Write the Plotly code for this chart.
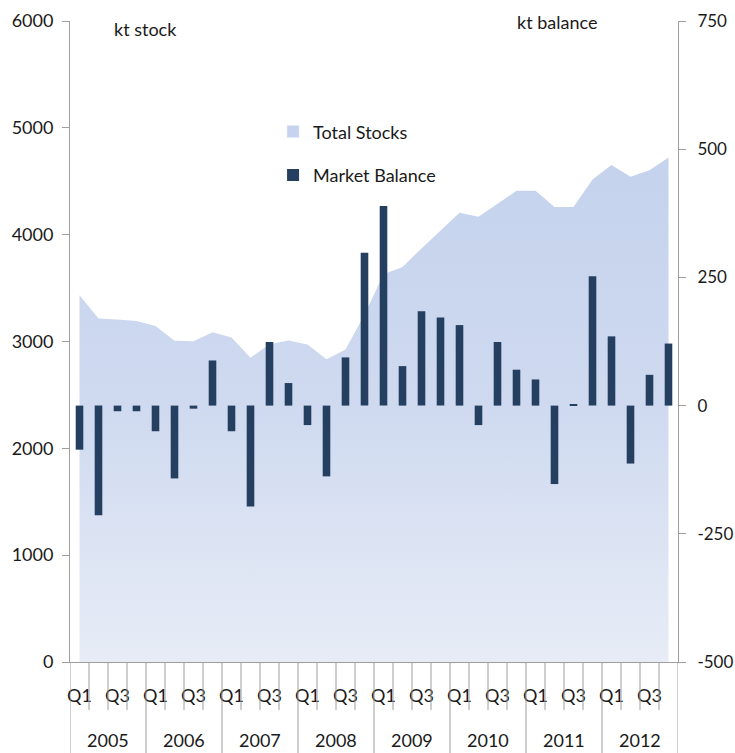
import plotly.graph_objects as go

# quarterly data, 2005 Q1 .. 2012 Q4
years = ["2005", "2006", "2007", "2008", "2009", "2010", "2011", "2012"]
quarters = ["Q1", "Q2", "Q3", "Q4"]
total_stocks = [3433, 3215, 3206, 3193, 3146, 3006, 3003, 3087,
                3037, 2849, 2975, 3009, 2971, 2834, 2926, 3253,
                3630, 3698, 3871, 4040, 4204, 4167, 4292, 4410,
                4410, 4260, 4260, 4517, 4651, 4541, 4604, 4722]
market_balance = [-86, -214, -11, -11, -50, -142, -6, 88,
                  -50, -197, 124, 44, -38, -138, 94, 298,
                  389, 77, 184, 172, 157, -38, 124, 70,
                  51, -153, 3, 252, 135, -113, 60, 121]
balance_ticks = [-500, -250, 0, 250, 500, 750]

FONT = "Lato"
FS = 18
AXIS_GREY = "#9E9E9E"
TEXT = "#1a1a1a"
n = len(years) * len(quarters)
idx = list(range(n))
qlabels = [q for y in years for q in quarters]

fig = go.Figure()

# Total stocks area (left axis)
fig.add_trace(go.Scatter(
    x=idx, y=total_stocks, mode="lines", fill="tozeroy",
    line=dict(width=0, color="#C6D3EE"),
    fillgradient=dict(type="vertical", start=0, stop=4800,
                      colorscale=[[0, "#E7ECF6"], [0.5, "#CFDAF0"], [1, "#C4D2EC"]]),
    showlegend=False, yaxis="y",
))
# legend proxy so the entry shows a square
fig.add_trace(go.Bar(x=[None], y=[None], name="Total Stocks",
                     marker_color="#C6D3EE", yaxis="y2", legendgroup="a"))

# Market balance bars (right axis)
fig.add_trace(go.Bar(
    x=idx, y=market_balance, name="Market Balance", width=0.4,
    marker=dict(color="#243F60", line=dict(width=0)),
    yaxis="y2", legendgroup="b",
))

# category dividers below the axis
shapes = []
for k in range(n + 1):
    long = k % len(quarters) == 0
    shapes.append(dict(type="line", xref="x", yref="paper",
                       x0=k - 0.5, x1=k - 0.5, y0=0, y1=-0.15 if long else -0.075,
                       line=dict(color=AXIS_GREY, width=1)))

annotations = []
for j, yr in enumerate(years):
    annotations.append(dict(x=j * len(quarters) + 1.5, y=-0.122, xref="x", yref="paper",
                            text=yr, showarrow=False, yanchor="middle",
                            font=dict(family=FONT, size=FS, color=TEXT)))
annotations.append(dict(x=0.069, y=0.988, xref="paper", yref="paper", text="kt stock",
                        showarrow=False, xanchor="left", yanchor="middle",
                        font=dict(family=FONT, size=FS, color=TEXT)))
annotations.append(dict(x=0.732, y=0.999, xref="paper", yref="paper", text="kt balance",
                        showarrow=False, xanchor="left", yanchor="middle",
                        font=dict(family=FONT, size=FS, color=TEXT)))

fig.update_layout(
    width=735, height=753,
    margin=dict(l=70, r=57, t=21, b=91),
    paper_bgcolor="white", plot_bgcolor="white",
    font=dict(family=FONT, size=FS, color=TEXT),
    barmode="overlay",
    xaxis=dict(range=[-0.5, n - 0.5], tickmode="array",
               tickvals=[i for i in idx if qlabels[i] in ("Q1", "Q3")],
               ticktext=[qlabels[i] for i in idx if qlabels[i] in ("Q1", "Q3")],
               ticks="outside", ticklen=17, tickcolor="rgba(0,0,0,0)",
               showline=True, linecolor=AXIS_GREY, showgrid=False, zeroline=False,
               automargin=False),
    yaxis=dict(range=[0, 6000], dtick=1000, ticks="outside", ticklen=7,
               tickcolor=AXIS_GREY, showline=True, linecolor=AXIS_GREY,
               showgrid=False, zeroline=False, automargin=False,
               ticklabelstandoff=5),
    yaxis2=dict(range=[-500, 750], tickmode="array", tickvals=balance_ticks,
                ticktext=[str(v) for v in balance_ticks], overlaying="y", side="right",
                ticks="outside", ticklen=7, tickcolor=AXIS_GREY, showline=True,
                linecolor=AXIS_GREY, showgrid=False, zeroline=False, automargin=False,
                ticklabelstandoff=8, tickfont=dict(family=FONT, size=17, color=TEXT)),
    legend=dict(x=0.334, y=0.856, xanchor="left", yanchor="top",
                bgcolor="rgba(0,0,0,0)", traceorder="grouped", tracegroupgap=17,
                itemwidth=30, font=dict(family=FONT, size=FS)),
    shapes=shapes, annotations=annotations,
)

# drop the default page margin so the figure sits at the window's corner
fig.write_html("out.html", config={"displayModeBar": False},
               post_script="document.body.style.margin='0';document.body.style.overflow='hidden';")
